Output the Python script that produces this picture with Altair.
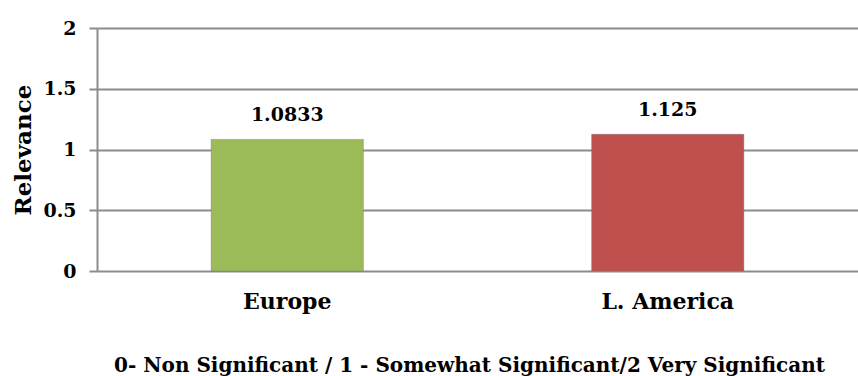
import altair as alt
import pandas as pd

categories = ["Europe", "L. America"]
values = [1.0833, 1.125]
labels = ["1.0833", "1.125"]
colors = ["#9BBB59", "#C0504D"]
y_ticks = [0, 0.5, 1, 1.5, 2]
footnote = "0- Non Significant / 1 - Somewhat Significant/2 Very Significant"

df = pd.DataFrame({"region": categories, "value": values, "label": labels, "color": colors})

FONT = "DejaVu Serif"

base = alt.Chart(df).encode(
    x=alt.X(
        "region:N",
        sort=categories,
        scale=alt.Scale(paddingInner=0.6, paddingOuter=0.3),
        axis=alt.Axis(
            title=footnote,
            labelAngle=0,
            labelFont=FONT,
            labelFontWeight="bold",
            labelFontSize=22,
            labelColor="#000000",
            labelPadding=20,
            ticks=False,
            domain=False,
            titleFont=FONT,
            titleFontWeight="bold",
            titleFontSize=20,
            titleColor="#000000",
            titleX=372,
            titleY=100,
            titleAlign="center",
            titleBaseline="alphabetic",
        ),
    ),
)

bars = base.mark_bar(stroke="#6f6f6f", strokeWidth=0.8, strokeOpacity=0.5).encode(
    y=alt.Y(
        "value:Q",
        scale=alt.Scale(domain=[0, 2]),
        axis=alt.Axis(
            values=y_ticks,
            format="~g",
            title="Relevance",
            titleFont=FONT,
            titleFontWeight="bold",
            titleFontSize=23,
            titleColor="#000000",
            titleX=-74,
            titleBaseline="middle",
            labelFont=FONT,
            labelFontWeight="bold",
            labelFontSize=19,
            labelColor="#000000",
            labelPadding=13,
            tickSize=8,
            tickColor="#8c8c8c",
            tickWidth=2,
            domainColor="#8c8c8c",
            domainWidth=2,
            gridColor="#8c8c8c",
            gridWidth=2,
        ),
    ),
    color=alt.Color("color:N", scale=None, legend=None),
)

text = base.mark_text(
    dy=-18, baseline="alphabetic", font=FONT, fontWeight="bold", fontSize=19, color="#000000"
).encode(y="value:Q", text="label:N")

chart = (
    alt.layer(bars, text)
    .properties(
        width=761,
        height=243,
        padding={"left": 97, "top": 28, "right": 0, "bottom": 105},
        autosize="none",
    )
    .configure_view(stroke=None)
    .configure(background="white")
)

chart.save("out.html", embed_options={"renderer": "svg", "actions": False})
